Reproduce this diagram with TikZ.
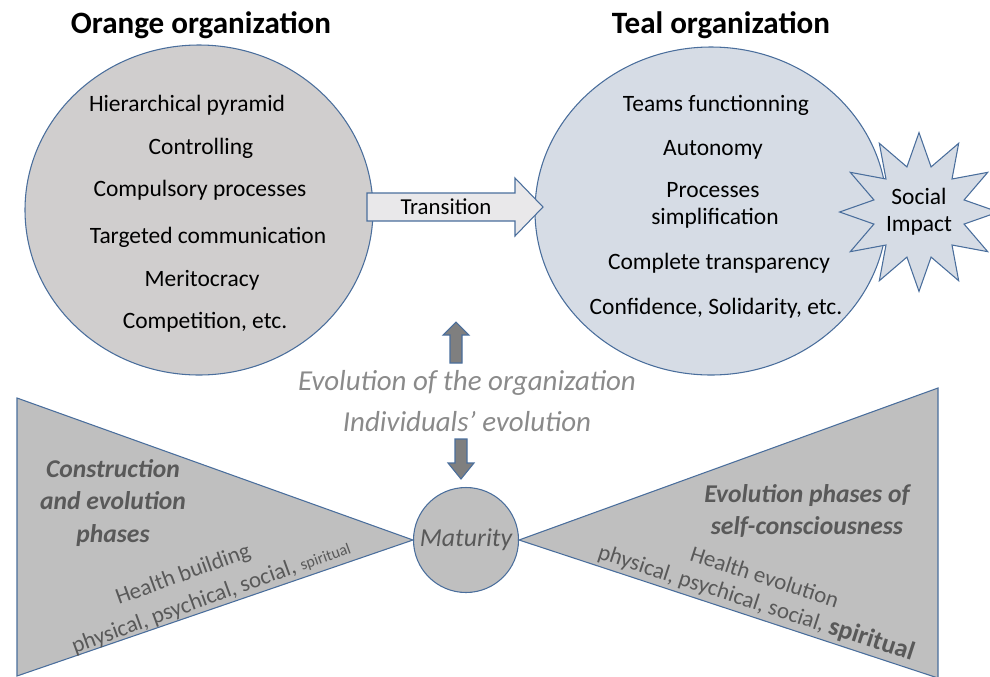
\documentclass[tikz,border=0pt]{standalone}
\usepackage{fontspec}
\setmainfont{Carlito}
\usepackage{tikz}
\usetikzlibrary{shapes, arrows, positioning}
\definecolor{edgeblue}{HTML}{4A6E9C}
\definecolor{orangefill}{HTML}{D0CECE}
\definecolor{tealfill}{HTML}{D6DCE5}
\definecolor{transfill}{HTML}{E9E8EA}
\definecolor{darkfill}{HTML}{7F7F7F}
\definecolor{trifill}{HTML}{BFBFBF}
\definecolor{evogray}{HTML}{8A8A8A}
\definecolor{tritext}{HTML}{595959}
\tikzstyle{title} = [font=\fontsize{23.3}{28}\selectfont\bfseries]
\tikzstyle{orgcirc} = [ellipse, draw=edgeblue, line width=0.8pt, inner sep=0pt]
\tikzstyle{item} = [font=\fontsize{17.6}{20}\selectfont]
\tikzstyle{blockarrow} = [draw=edgeblue, line width=0.8pt]
\tikzstyle{tri} = [draw=edgeblue, line width=0.8pt, fill=trifill]
\tikzstyle{evo} = [font=\fontsize{21.7}{26}\selectfont\itshape, text=evogray]
\tikzstyle{trititle} = [font=\fontsize{19.2}{24.4}\selectfont\bfseries\itshape, text=tritext, align=center]
\tikzstyle{health} = [font=\fontsize{17.2}{20}\selectfont, text=tritext, align=center, inner sep=0pt]

\begin{document}
\begin{tikzpicture}[x=0.75pt, y=-0.75pt]
\useasboundingbox (0,0) rectangle (990,676);
\clip (0,0) rectangle (990,676);

% titles
\node [title] (orangetitle) at (201,25) {Orange organization};
\node [title] (tealtitle) at (721,25) {Teal organization};

% the two organizations
\node [orgcirc, fill=orangefill, minimum width=261pt, minimum height=247.5pt] (orange) at (199,210) {};
\node [orgcirc, fill=tealfill, minimum width=264pt, minimum height=246pt] (teal) at (711,211) {};

\foreach \x/\y/\t in {187/105/Hierarchical pyramid, 201/148/Controlling, 200/190/Compulsory processes,
                      208/237/Targeted communication, 202/280/Meritocracy, 205/322/{Competition, etc.}}
  \node [item] (o\y) at (\x,\y) {\t};

\foreach \x/\y/\t in {716/105/Teams functionning, 713/150/Autonomy, 713/190/Processes, 715/218/simplification,
                      719/263/Complete transparency, 716/308/{Confidence, Solidarity, etc.}}
  \node [item] (t\y) at (\x,\y) {\t};

\node [star, star points=12, star point ratio=1.7, minimum size=106pt, inner sep=0pt,
       draw=edgeblue, line width=0.8pt, fill=tealfill, item, align=center] (social) at (919,212) {Social\\Impact};

% transition
\draw [blockarrow, fill=transfill] (367,193) -- (515,193) -- (515,178) -- (543,207)
      -- (515,236) -- (515,221) -- (367,221) -- cycle;
\node [item, font=\fontsize{17.1}{20}\selectfont] (transition) at (446,207) {Transition};

% evolution
\draw [blockarrow, fill=darkfill] (450,363) -- (450,335) -- (443,335) -- (456,322)
      -- (469,335) -- (462,335) -- (462,363) -- cycle;
\node [evo] (evoorg) at (467,383) {Evolution of the organization};
\node [evo] (evoind) at (467,422) {Individuals’ evolution};
\draw [blockarrow, fill=darkfill] (455,439) -- (455,463) -- (448,463) -- (461,479)
      -- (474,463) -- (467,463) -- (467,439) -- cycle;

% maturity
\node [circle, draw=edgeblue, line width=0.8pt, fill=trifill, minimum size=78.75pt, inner sep=0pt,
       font=\fontsize{19.4}{23}\selectfont\itshape, text=tritext] (maturity) at (466,540) {Maturity};
\draw [tri] (17,398) -- (maturity.west) -- (17,676) -- cycle;
\draw [tri] (938,388) -- (maturity.east) -- (938,678) -- cycle;

\node [trititle] (construction) at (113,503) {Construction\\and evolution\\phases};
\node [health, rotate=20] (lhealth) at (206,583)
  {Health building\hspace*{28pt}\\[3pt]physical, psychical, social, {\fontsize{12}{14}\selectfont spiritual}};

\node [trititle] (selfcons) at (807,511) {Evolution phases of\\self-consciousness};
\node [health, rotate=-18] (rhealth) at (760,591)
  {Health evolution\\physical, psychical, social, {\fontsize{19.5}{22}\selectfont\bfseries spiritual}};
\end{tikzpicture}
\end{document}
